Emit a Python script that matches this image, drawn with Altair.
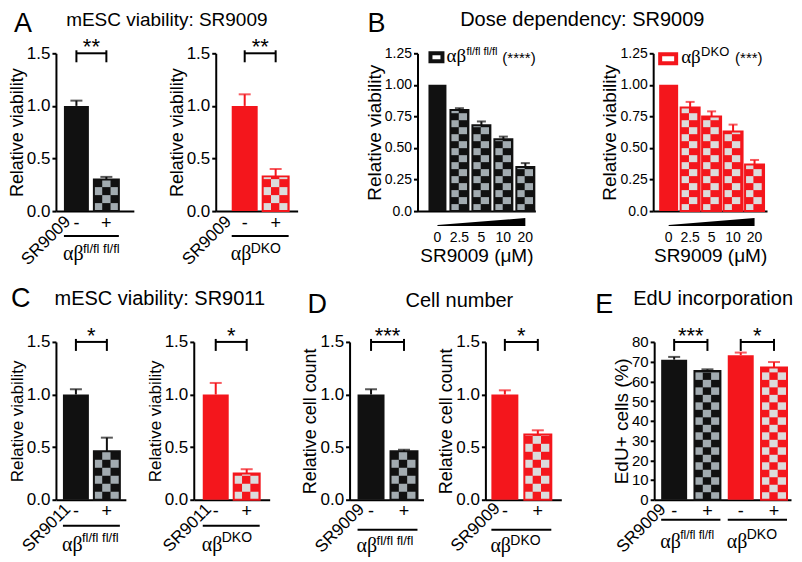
import math
import altair as alt
import pandas as pd

FONT = "Liberation Sans"
SERIF = "Liberation Serif"
BLACK = "#111111"
GRAY = "#a2abb0"
RED = "#f4161c"
PINK = "#dcdcdc"

# ---------------- data ----------------
conditions = ["-", "+"]
a_wt_val = [1.00, 0.30]
a_wt_err = [0.05, 0.025]
a_dko_val = [1.00, 0.33]
a_dko_err = [0.11, 0.07]

doses = ["0", "2.5", "5", "10", "20"]
b_wt_val = [1.00, 0.80, 0.68, 0.57, 0.35]
b_wt_err = [0.0, 0.015, 0.03, 0.02, 0.03]
b_dko_val = [1.00, 0.82, 0.75, 0.63, 0.37]
b_dko_err = [0.0, 0.045, 0.04, 0.055, 0.035]

c_wt_val = [1.00, 0.46]
c_wt_err = [0.05, 0.13]
c_dko_val = [1.00, 0.25]
c_dko_err = [0.11, 0.04]

d_wt_val = [1.00, 0.46]
d_wt_err = [0.05, 0.015]
d_dko_val = [1.00, 0.62]
d_dko_err = [0.04, 0.04]

e_groups = ["wt-", "wt+", "dko-", "dko+"]
e_val = [71.0, 65.3, 73.3, 67.0]
e_err = [1.4, 0.8, 1.3, 2.8]

ONE = pd.DataFrame({"k": [0]})
H = 158


def dark():
    return alt.when(alt.datum.geno == "wt").then(alt.value(BLACK)).otherwise(alt.value(RED))


def light():
    return alt.when(alt.datum.geno == "wt").then(alt.value(GRAY)).otherwise(alt.value(PINK))


def bar_panel(cats, vals, errs, geno, checks, geom, ymax, yvals, ylab_expr, ylab_size,
              ytitle, ytitle_size, ncols, cell_px, cap, xlab_expr="datum.label",
              xlab_size=18, xlab_pad=3, xtitle=None, xtitle_size=19, xtitle_pad=2):
    x0, x1, lefts, bw = geom
    n = len(cats)
    step = (lefts[-1] - lefts[0]) / (n - 1)
    outer = (x1 - x0) - (n - 1) * step - bw
    xscale = alt.Scale(domain=cats, paddingInner=1 - bw / step,
                       paddingOuter=outer / (2 * step), align=(lefts[0] - x0) / outer)
    yscale = alt.Scale(domain=[0, ymax], nice=False, zero=True)
    df = pd.DataFrame({"cat": cats, "val": vals, "err": errs, "geno": geno, "chk": checks})
    df["top"] = df["val"] + df["err"]
    rh = cell_px * ymax / H
    rows = []
    for c, v, g, k in zip(cats, vals, geno, checks):
        if not k:
            continue
        for r in range(math.ceil(v / rh - 1e-9)):
            for col in range(ncols):
                if (r + col) % 2 == 0:
                    rows.append({"cat": c, "col": col, "y0": r * rh,
                                 "y1": min((r + 1) * rh, v), "geno": g})
    cells = pd.DataFrame(rows)

    xaxis = alt.Axis(title=xtitle, labelAngle=0, ticks=False, labelExpr=xlab_expr,
                     labelFontSize=xlab_size, labelPadding=xlab_pad, domainWidth=2,
                     domainColor="black", labelColor="black", titleFontSize=xtitle_size,
                     titlePadding=xtitle_pad, titleFontWeight="normal", titleColor="black",
                     grid=False, labelOverlap=False)
    yaxis = alt.Axis(title=ytitle, values=yvals, labelExpr=ylab_expr, labelFontSize=ylab_size,
                     titleFontSize=ytitle_size, titleFontWeight="normal", tickSize=4,
                     tickWidth=2, tickColor="black", domainWidth=2, domainColor="black",
                     labelColor="black", titleColor="black", labelPadding=2, titlePadding=0,
                     grid=False, labelFlush=False, labelOverlap=False, labelSeparation=0)

    def X():
        return alt.X("cat:N", scale=xscale, axis=xaxis)

    def Y(f):
        return alt.Y(f, type="quantitative", scale=yscale, axis=yaxis)

    layers = [alt.Chart(df).mark_bar().encode(x=X(), y=Y("val"), color=dark())]
    if len(cells):
        layers.append(alt.Chart(cells).mark_rect().encode(
            x=X(), xOffset=alt.XOffset("col:N", scale=alt.Scale(paddingInner=0, paddingOuter=0)),
            y=Y("y0"), y2="y1", color=light()))
    chk = df[df["chk"]]
    layers.append(alt.Chart(chk).mark_bar(filled=False, strokeWidth=2).encode(
        x=X(), y=Y("val"), color=dark()))
    e = df[df["err"] > 0]
    layers.append(alt.Chart(e).mark_rule(strokeWidth=2).encode(
        x=X(), y=Y("val"), y2="top", color=dark()))
    layers.append(alt.Chart(e).mark_tick(thickness=2, size=cap).encode(
        x=X(), y=Y("top"), color=dark()))
    info = {"cats": cats, "gap": step - bw, "w": x1 - x0, "xtitle": xtitle,
            "X": X, "Y": Y}
    return layers, info


def xd(info, i, bp=0.5):
    return alt.XDatum(datum=info["cats"][i], type="nominal", bandPosition=bp,
                      title=info["xtitle"])


def x2d(info, i, bp=0.5):
    return alt.X2Datum(datum=info["cats"][i], bandPosition=bp)


def txt(s, x, y, size, align="left", font=FONT, angle=0, baseline="alphabetic", color="black"):
    kw = dict(text=s, fontSize=size, align=align, font=font, baseline=baseline, color=color)
    if angle:
        kw["angle"] = angle
    return alt.Chart(ONE).mark_text(**kw).encode(x=alt.value(x), y=alt.value(y))


def bracket(info, i, j, stars, size=22, sy=1):
    r = dict(strokeWidth=2, color="black")
    return [
        alt.Chart(ONE).mark_rule(**r).encode(x=xd(info, i), x2=x2d(info, j), y=alt.value(0)),
        alt.Chart(ONE).mark_rule(**r).encode(x=xd(info, i), y=alt.value(-3), y2=alt.value(9)),
        alt.Chart(ONE).mark_rule(**r).encode(x=xd(info, j), y=alt.value(-3), y2=alt.value(9)),
        alt.Chart(ONE).mark_text(text=stars, fontSize=size, align="center", dx=info["gap"] / 2,
                                 baseline="alphabetic", color="black").encode(
            x=xd(info, i, 1), y=alt.value(sy)),
    ]


def geno_label(info, i, j, sup, yl, yb, ys, ab=20, sups=13, sdx=19):
    return [
        alt.Chart(ONE).mark_rule(strokeWidth=2, color="black").encode(
            x=xd(info, i, 0), x2=x2d(info, j, 1), y=alt.value(yl)),
        alt.Chart(ONE).mark_text(text="αβ", font=SERIF, fontSize=ab, align="left", dx=-1,
                                 color="black").encode(x=xd(info, i, 0), y=alt.value(yb)),
        alt.Chart(ONE).mark_text(text=sup, fontSize=sups, align="left", dx=sdx,
                                 color="black").encode(x=xd(info, i, 0), y=alt.value(ys)),
    ]


def finish(layers, info):
    return alt.layer(*layers).properties(width=info["w"], height=H)


V1 = "format(datum.value, '.1f')"
V2 = "datum.value == 0 ? '0.0' : format(datum.value, '.2f')"
FLSUP = "fl/fl fl/fl"

# ---------- A ----------
L, I = bar_panel(conditions, a_wt_val, a_wt_err, ["wt", "wt"], [False, True],
                 (50, 128, [58, 88], 25), 1.5, [0, 0.5, 1, 1.5], V1, 17,
                 "Relative viability", 18, 3, 8, 12)
L += bracket(I, 0, 1, "**")
L += geno_label(I, 0, 1, FLSUP, H + 25, H + 43, H + 38)
L += [txt("SR9009", 12, H + 8, 17, align="right", angle=315, baseline="middle"),
      txt("A", -42, -21, 27), txt("mESC viability: SR9009", 111, -27, 19, align="center")]
A1 = finish(L, I)

L, I = bar_panel(conditions, a_dko_val, a_dko_err, ["dko", "dko"], [False, True],
                 (210, 292, [226, 257], 26), 1.5, [0, 0.5, 1, 1.5], V1, 17,
                 "Relative viability", 18, 3, 8, 12)
L += bracket(I, 0, 1, "**")
L += geno_label(I, 0, 1, "DKO", H + 25, H + 43, H + 38, sups=14)
L += [txt("SR9009", 13, H + 8, 17, align="right", angle=315, baseline="middle")]
A2 = finish(L, I)

# ---------- B ----------
def wedge(info):
    wd = pd.DataFrame({"cat": [info["cats"][0], info["cats"][-1]],
                       "wt": [-0.111, -0.055], "wb": [-0.119, -0.119]})
    return alt.Chart(wd).mark_area(color="black").encode(
        x=info["X"](), y=info["Y"]("wt"), y2="wb")


L, I = bar_panel(doses, b_wt_val, b_wt_err, ["wt"] * 5, [False, True, True, True, True],
                 (412, 530, [423, 445, 467, 489, 511], 18), 1.25,
                 [0, 0.25, 0.5, 0.75, 1.0, 1.25], V2, 14, "Relative viability", 19, 2, 7, 9,
                 xlab_size=14, xlab_pad=19, xtitle="SR9009 (μM)", xtitle_size=19)
L += [wedge(I),
      alt.Chart(ONE).mark_rect(fill="white", stroke=BLACK, strokeWidth=4).encode(
          x=alt.value(13), x2=alt.value(25), y=alt.value(0), y2=alt.value(8)),
      txt("αβ", 29, 9, 19, font=SERIF), txt(FLSUP, 49, 2, 11), txt("(****)", 85, 10, 15),
      txt("B", -50, -21, 27), txt("Dose dependency: SR9009", 165, -27, 20, align="center")]
B1 = finish(L, I)

L, I = bar_panel(doses, b_dko_val, b_dko_err, ["dko"] * 5, [False, True, True, True, True],
                 (648, 762, [654, 675.5, 697, 718.5, 740], 19), 1.25,
                 [0, 0.25, 0.5, 0.75, 1.0, 1.25], V2, 14, "Relative viability", 19, 2, 7, 9,
                 xlab_size=14, xlab_pad=19, xtitle="SR9009 (μM)", xtitle_size=19)
L += [wedge(I),
      alt.Chart(ONE).mark_rect(fill="white", stroke=RED, strokeWidth=4).encode(
          x=alt.value(7), x2=alt.value(23), y=alt.value(1), y2=alt.value(10)),
      txt("αβ", 28, 10, 19, font=SERIF), txt("DKO", 48, 3, 13), txt("(***)", 82, 10, 15)]
B2 = finish(L, I)

# ---------- C ----------
L, I = bar_panel(conditions, c_wt_val, c_wt_err, ["wt", "wt"], [False, True],
                 (50, 120, [57, 88], 26), 1.5, [0, 0.5, 1, 1.5], V1, 17,
                 "Relative viability", 17, 3, 8, 12)
L += bracket(I, 0, 1, "*")
L += geno_label(I, 0, 1, FLSUP, H + 26, H + 45, H + 38)
L += [txt("SR9011", 12, H + 7, 17, align="right", angle=315, baseline="middle"),
      txt("C", -45, -35, 27), txt("mESC viability: SR9011", 104, -37, 20, align="center")]
C1 = finish(L, I)

L, I = bar_panel(conditions, c_dko_val, c_dko_err, ["dko", "dko"], [False, True],
                 (188, 264, [197, 228], 26), 1.5, [0, 0.5, 1, 1.5], V1, 17,
                 "Relative viability", 17, 3, 8, 12)
L += bracket(I, 0, 1, "*")
L += geno_label(I, 0, 1, "DKO", H + 26, H + 45, H + 38, sups=14)
L += [txt("SR9011", 15, H + 7, 17, align="right", angle=315, baseline="middle")]
C2 = finish(L, I)

# ---------- D ----------
L, I = bar_panel(conditions, d_wt_val, d_wt_err, ["wt", "wt"], [False, True],
                 (344, 418, [352, 385], 27), 1.5, [0, 0.5, 1, 1.5], V1, 17,
                 "Relative cell count", 18, 3, 8, 12)
L += bracket(I, 0, 1, "***")
L += geno_label(I, 0, 1, FLSUP, H + 30, H + 46, H + 41)
L += [txt("SR9009", 12, H + 7, 17, align="right", angle=315, baseline="middle"),
      txt("D", -42, -29, 27), txt("Cell number", 110, -35, 20, align="center")]
D1 = finish(L, I)

L, I = bar_panel(conditions, d_dko_val, d_dko_err, ["dko", "dko"], [False, True],
                 (480, 556, [486, 519], 27), 1.5, [0, 0.5, 1, 1.5], V1, 17,
                 "Relative cell count", 18, 3, 8, 12)
L += bracket(I, 0, 1, "*")
L += geno_label(I, 0, 1, "DKO", H + 30, H + 46, H + 41, sups=14)
L += [txt("SR9009", 12, H + 6, 17, align="right", angle=315, baseline="middle")]
D2 = finish(L, I)

# ---------- E ----------
L, I = bar_panel(e_groups, e_val, e_err, ["wt", "wt", "dko", "dko"],
                 [False, True, False, True],
                 (649, 786, [656, 689.3, 722.7, 756], 26), 80,
                 [0, 10, 20, 30, 40, 50, 60, 70, 80], "format(datum.value, 'd')", 15,
                 "EdU+ cells (%)", 19, 3, 7.5, 12, xlab_expr="slice(datum.label, -1)")
L += bracket(I, 0, 1, "***")
L += bracket(I, 2, 3, "*")
L += geno_label(I, 0, 1, FLSUP, H + 20, H + 42, H + 35, sups=12)
L += geno_label(I, 2, 3, "DKO", H + 20, H + 42, H + 35, sups=14)
L += [txt("SR9009", 9, H + 7, 17, align="right", angle=315, baseline="middle"),
      txt("E", -59, -29, 27), txt("EdU incorporation", 59, -37, 20, align="center")]
E1 = finish(L, I)


def spacer(w):
    return alt.Chart(ONE).mark_point(opacity=0).encode(
        x=alt.value(0), y=alt.value(0)).properties(width=w, height=1)


top = alt.hconcat(A1, spacer(82), A2, spacer(120), B1, spacer(118), B2,
                  spacing=0, bounds="flush")
bottom = alt.hconcat(C1, spacer(68), C2, spacer(80), D1, spacer(62), D2, spacer(93), E1,
                     spacing=0, bounds="flush")

chart = alt.vconcat(top, bottom, spacing=16, padding={"top": 2, "left": 0, "right": 0, "bottom": 0}
                    ).configure(font=FONT).configure_view(stroke=None
                    ).configure_axis(labelOverlap=False)

chart.save("out.html", embed_options={"renderer": "svg", "actions": False})
